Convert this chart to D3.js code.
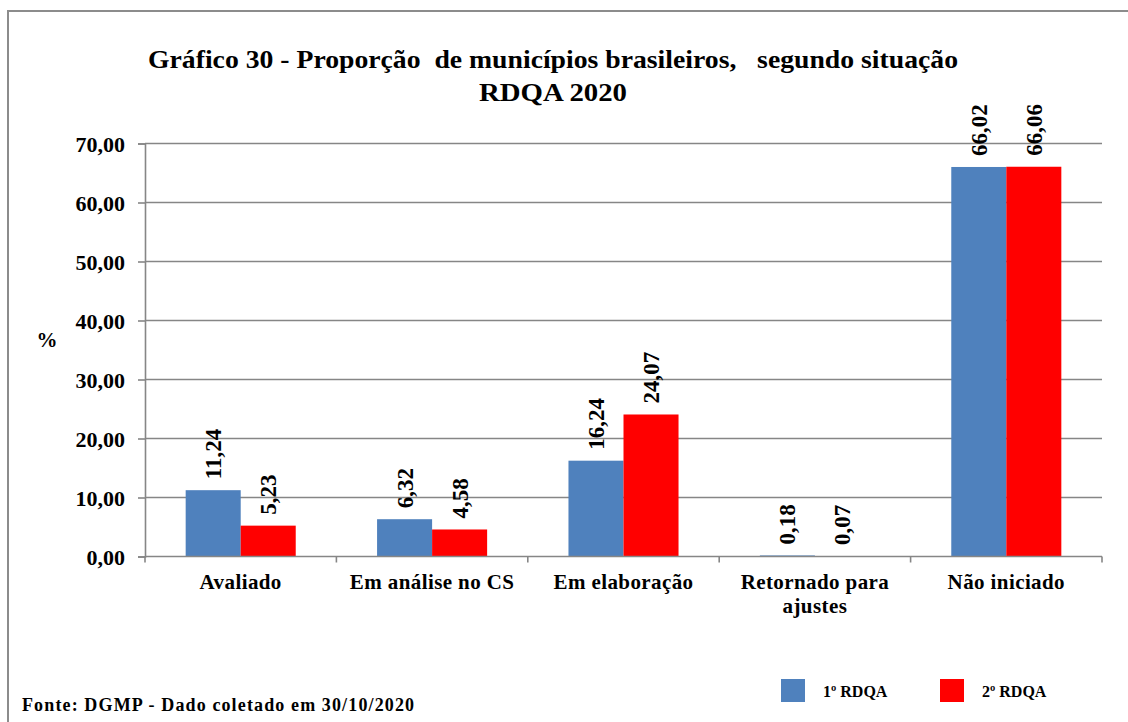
<!DOCTYPE html>
<html>
<head>
<meta charset="utf-8">
<script src="https://cdn.jsdelivr.net/npm/d3@7"></script>
<style>
  body { margin: 0; background: #fff; }
</style>
</head>
<body>
<div id="chart"></div>
<script>
// data
var categories = ["Avaliado", "Em análise no CS", "Em elaboração", "Retornado para ajustes", "Não iniciado"];
var catLines = [["Avaliado"], ["Em análise no CS"], ["Em elaboração"], ["Retornado para", "ajustes"], ["Não iniciado"]];
var seriesNames = ["1º RDQA", "2º RDQA"];
var rdqa1 = [11.24, 6.32, 16.24, 0.18, 66.02];
var rdqa2 = [5.23, 4.58, 24.07, 0.07, 66.06];
var yTicks = [0, 10, 20, 30, 40, 50, 60, 70];
var colors = ["#4F81BD", "#FF0000"];

var W = 1128, H = 722;
var plotLeft = 145, plotRight = 1102, plotTop = 143.5, plotBottom = 556.5;
var FONT = "'Liberation Serif'";

var svg = d3.select("#chart").append("svg").attr("width", W).attr("height", H)
	.style("font-family", FONT);

function txt(sel){
	return sel.style("font-family", FONT).style("font-weight", "bold").attr("fill", "#000");
}

//OUTER FRAME (only top and left edges show)
svg.append("path")
	.attr("d", "M8,722 V11 H1128")
	.attr("fill", "none").attr("stroke", "#8c8c8c").attr("stroke-width", 2);

var x0 = d3.scaleBand().domain(categories).range([plotLeft, plotRight]);
var bw = x0.bandwidth();
var x1 = d3.scaleBand().domain(seriesNames).range([bw * 0.2125, bw * 0.7875]);
var y = d3.scaleLinear().domain([0, 70]).range([plotBottom, plotTop]);

var fmt = function(v){ return d3.format(".2f")(v).replace(".", ","); };

//GRID
svg.append("g").selectAll("line").data(yTicks.slice(1)).enter().append("line")
	.attr("x1", plotLeft).attr("x2", plotRight)
	.attr("y1", function(d){ return y(d); }).attr("y2", function(d){ return y(d); })
	.attr("stroke", "#868686").attr("stroke-width", 1.6);

//Y AXIS
var yAxis = svg.append("g").attr("transform", "translate(" + plotLeft + ",0)")
	.call(d3.axisLeft(y).tickValues(yTicks).tickSize(7).tickFormat(fmt));
yAxis.attr("font-family", null).attr("font-size", null);
yAxis.select(".domain").attr("fill", "none").attr("stroke", "#868686").attr("stroke-width", 1.6);
yAxis.selectAll(".tick line").attr("stroke", "#868686").attr("stroke-width", 1.6);
txt(yAxis.selectAll(".tick text")).style("font-size", "22px").attr("x", -20).attr("dy", "0.35em");

txt(svg.append("text")).attr("x", 47).attr("y", 347).attr("text-anchor", "middle")
	.style("font-size", "21px").text("%");

//BARS
var data = categories.map(function(c, i){ return {cat: c, vals: [rdqa1[i], rdqa2[i]]}; });
var groups = svg.append("g").selectAll("g").data(data).enter().append("g")
	.attr("transform", function(d){ return "translate(" + x0(d.cat) + ",0)"; });

groups.selectAll("rect").data(function(d){ return d.vals; }).enter().append("rect")
	.attr("x", function(d, i){ return x1(seriesNames[i]); })
	.attr("width", x1.bandwidth())
	.attr("y", function(d){ return y(d); })
	.attr("height", function(d){ return plotBottom - y(d); })
	.attr("fill", function(d, i){ return colors[i]; });

txt(groups.selectAll("text.val").data(function(d){ return d.vals; }).enter().append("text"))
	.attr("class", "val")
	.style("font-size", "23px")
	.attr("transform", function(d, i){
		var cx = x1(seriesNames[i]) + x1.bandwidth() / 2;
		return "translate(" + (cx + 8) + "," + (y(d) - 11) + ") rotate(-90)";
	})
	.text(fmt);

//X AXIS
var xAxis = svg.append("g").attr("transform", "translate(0," + plotBottom + ")");
xAxis.append("line").attr("x1", plotLeft).attr("x2", plotRight).attr("stroke", "#868686").attr("stroke-width", 1.6);
xAxis.selectAll("line.tk").data(d3.range(categories.length + 1)).enter().append("line")
	.attr("x1", function(i){ return plotLeft + i * bw; }).attr("x2", function(i){ return plotLeft + i * bw; })
	.attr("y1", 0).attr("y2", 6).attr("stroke", "#868686").attr("stroke-width", 1.6);

var labels = txt(svg.append("g").selectAll("text").data(categories).enter().append("text"))
	.attr("text-anchor", "middle").style("font-size", "21px").style("letter-spacing", "0.4px")
	.attr("x", function(d){ return x0(d) + bw / 2; })
	.attr("y", 589);
labels.each(function(d, i){
	var t = d3.select(this);
	catLines[i].forEach(function(s, j){
		t.append("tspan").attr("x", x0(d) + bw / 2).attr("dy", j ? 24 : 0).text(s);
	});
});

//TITLE
txt(svg.append("text")).attr("x", 553).attr("y", 68).attr("text-anchor", "middle").style("font-size", "26px")
	.attr("textLength", 810).attr("lengthAdjust", "spacingAndGlyphs")
	.style("white-space", "pre")
	.text("Gráfico 30 - Proporção  de municípios brasileiros,   segundo situação");
txt(svg.append("text")).attr("x", 553).attr("y", 101).attr("text-anchor", "middle").style("font-size", "26px")
	.attr("textLength", 148).attr("lengthAdjust", "spacingAndGlyphs")
	.text("RDQA 2020");

//LEGEND
var legX = [781, 940];
var leg = svg.append("g").selectAll("g").data(seriesNames).enter().append("g")
	.attr("transform", function(d, i){ return "translate(" + legX[i] + ",679)"; });
leg.append("rect").attr("width", 24).attr("height", 23).attr("fill", function(d, i){ return colors[i]; });
txt(leg.append("text")).attr("x", 42).attr("y", 18).style("font-size", "16px").text(function(d){ return d; });

//SOURCE
txt(svg.append("text")).attr("x", 22).attr("y", 711).style("font-size", "18px")
	.attr("textLength", 392).attr("lengthAdjust", "spacing")
	.text("Fonte: DGMP - Dado coletado em 30/10/2020");
</script>
</body>
</html>
